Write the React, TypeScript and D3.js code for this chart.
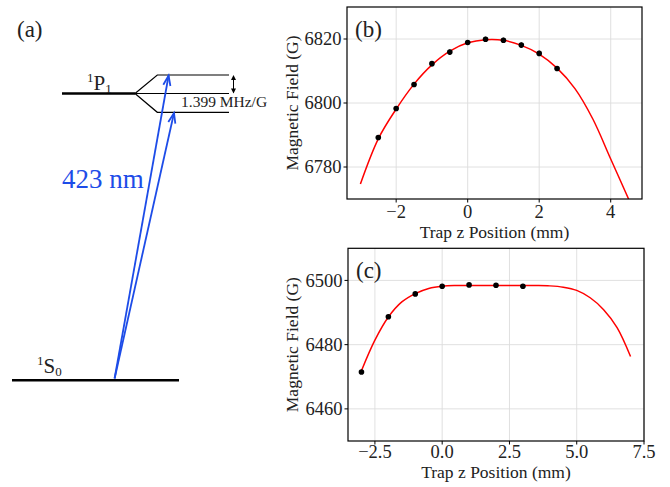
import React from 'react';
import * as d3 from 'd3';

// ---- Panel (b) data ----
const bX = [-2.5, -2, -1.5, -1, -0.5, 0, 0.5, 1, 1.5, 2, 2.5];
const bY = [6789.2, 6798.3, 6805.8, 6812.3, 6815.9, 6818.9, 6819.9, 6819.6, 6818.1, 6815.5, 6810.8];
const bErr = [0.8, 0.8, 0.8, 0.8, 0.8, 0.8, 0.8, 0.8, 0.8, 0.8, 0.8];
const bFitX = [-3, -2.5, -2, -1.5, -1, -0.5, 0, 0.5, 1, 1.5, 2, 2.5, 3, 3.5, 4, 4.5];
const bFitY = [6774.7, 6788.8, 6798.1, 6805.9, 6811.9, 6816.2, 6818.8, 6819.8, 6819.6, 6818.0, 6815.3, 6810.9, 6804.5, 6795.0, 6782.5, 6770.0];
const bXTicks = [-2, 0, 2, 4];
const bYTicks = [6780, 6800, 6820];

// ---- Panel (c) data ----
const cX = [-3, -2, -1, 0, 1, 2, 3];
const cY = [6471.5, 6488.7, 6495.8, 6498.2, 6498.6, 6498.5, 6498.2];
const cErr = [0.6, 0.6, 0.6, 0.6, 0.6, 0.6, 0.6];
const cFitX = [-3, -2.5, -2, -1.5, -1, -0.5, 0, 0.5, 1, 1.5, 2, 2.5, 3, 3.5, 4, 4.5, 5, 5.5, 6, 6.5, 7];
const cFitY = [6471.9, 6481.4, 6488.6, 6493.3, 6495.9, 6497.5, 6498.2, 6498.4, 6498.4, 6498.4, 6498.4, 6498.4, 6498.4, 6498.4, 6498.3, 6497.9, 6496.9, 6494.6, 6490.9, 6485.3, 6476.3];
const cXTicks = [-2.5, 0, 2.5, 5, 7.5];
const cYTicks = [6460, 6480, 6500];

const FONT = '"Liberation Serif", "Times New Roman", serif';
const BLUE = '#1d4ce8';
const TICK_FS = 18.5;
const LABEL_FS = 17.5;

const fmtMinus = (s: string) => s.replace('-', '\u2212');

type PanelProps = {
  id: string;
  label: string;
  x0: number; x1: number; y0: number; y1: number;
  xDomain: [number, number]; yDomain: [number, number];
  xs: number[]; ys: number[]; errs: number[];
  fitX: number[]; fitY: number[];
  xTicks: number[]; yTicks: number[];
  xFmt: (v: number) => string;
  tickBase: number; labelBase: number;
};

function Panel(p: PanelProps) {
  const x = d3.scaleLinear().domain(p.xDomain).range([p.x0, p.x1]);
  const y = d3.scaleLinear().domain(p.yDomain).range([p.y1, p.y0]);
  const line = d3.line<number>()
    .x((_, i) => x(p.fitX[i]))
    .y((d) => y(d))
    .curve(d3.curveCatmullRom.alpha(0.5));
  const clipId = 'clip-' + p.id;
  return (
    <g>
      <defs>
        <clipPath id={clipId}>
          <rect x={p.x0} y={p.y0} width={p.x1 - p.x0} height={p.y1 - p.y0} />
        </clipPath>
      </defs>
      {/* grid */}
      {p.xTicks.map((t) => (
        <line key={'gx' + t} x1={x(t)} x2={x(t)} y1={p.y0} y2={p.y1} stroke="#dcdcdc" strokeWidth={0.9} />
      ))}
      {p.yTicks.map((t) => (
        <line key={'gy' + t} x1={p.x0} x2={p.x1} y1={y(t)} y2={y(t)} stroke="#dcdcdc" strokeWidth={0.9} />
      ))}
      {/* fit curve */}
      <path d={line(p.fitY) || ''} fill="none" stroke="#ff0000" strokeWidth={1.5} clipPath={`url(#${clipId})`} />
      {/* data */}
      {p.xs.map((xv, i) => (
        <g key={'pt' + i}>
          <line x1={x(xv)} x2={x(xv)} y1={y(p.ys[i] - p.errs[i])} y2={y(p.ys[i] + p.errs[i])} stroke="#000" strokeWidth={1.2} />
          <circle cx={x(xv)} cy={y(p.ys[i])} r={2.8} fill="#000" />
        </g>
      ))}
      {/* spines */}
      <rect x={p.x0} y={p.y0} width={p.x1 - p.x0} height={p.y1 - p.y0} fill="none" stroke="#000" strokeWidth={1.2} />
      {/* x ticks */}
      {p.xTicks.map((t) => (
        <g key={'tx' + t}>
          <line x1={x(t)} x2={x(t)} y1={p.y1} y2={p.y1 + 3.5} stroke="#000" strokeWidth={1} />
          <text x={x(t)} y={p.tickBase} textAnchor="middle" fontFamily={FONT} fontSize={TICK_FS} fill="#222">
            {p.xFmt(t)}
          </text>
        </g>
      ))}
      {/* y ticks */}
      {p.yTicks.map((t) => (
        <g key={'ty' + t}>
          <line x1={p.x0 - 3.5} x2={p.x0} y1={y(t)} y2={y(t)} stroke="#000" strokeWidth={1} />
          <text x={p.x0 - 5.5} y={y(t)} dy="0.34em" textAnchor="end" fontFamily={FONT} fontSize={TICK_FS} fill="#222">
            {t}
          </text>
        </g>
      ))}
      {/* axis labels */}
      <text x={(p.x0 + p.x1) / 2} y={p.labelBase} textAnchor="middle" fontFamily={FONT} fontSize={LABEL_FS} fill="#222">
        Trap z Position (mm)
      </text>
      <text transform={`translate(298,${(p.y0 + p.y1) / 2}) rotate(-90)`} textAnchor="middle" fontFamily={FONT} fontSize={LABEL_FS} fill="#222">
        Magnetic Field (G)
      </text>
      <text x={p.x0 + 8} y={p.y0 + 30} fontFamily={FONT} fontSize={23} fill="#222">
        {p.label}
      </text>
    </g>
  );
}

function arrowHead(sx: number, sy: number, tx: number, ty: number, L: number, W: number) {
  const dx = tx - sx, dy = ty - sy;
  const len = Math.hypot(dx, dy);
  const ux = dx / len, uy = dy / len;
  const px = -uy, py = ux;
  const bx = tx - L * ux, by = ty - L * uy;
  return `M${bx + W * px},${by + W * py} L${tx},${ty} L${bx - W * px},${by - W * py}`;
}

function Diagram() {
  const pY = 93.5, upY = 75, loY = 112.3;
  const sY = 380.3;
  const start = [114.6, 378.5];
  const tip1 = [168.6, 75.5];
  const tip2 = [174, 113];
  return (
    <g>
      <text x={17} y={37} fontFamily={FONT} fontSize={23} fill="#222">(a)</text>
      {/* 1P1 level */}
      <line x1={62} x2={135} y1={pY} y2={pY} stroke="#000" strokeWidth={2.6} />
      <line x1={135} x2={229} y1={pY} y2={pY} stroke="#000" strokeWidth={1.2} />
      <polyline points={`135,${pY} 157.3,${upY} 229,${upY}`} fill="none" stroke="#000" strokeWidth={1.2} />
      <polyline points={`135,${pY} 157.3,${loY} 229,${loY}`} fill="none" stroke="#000" strokeWidth={1.2} />
      {/* double arrow */}
      <line x1={233.5} x2={233.5} y1={upY + 1} y2={pY - 1} stroke="#000" strokeWidth={1} />
      <path d={`M233.5,${upY} L231,${upY + 5} L236,${upY + 5} Z`} fill="#000" />
      <path d={`M233.5,${pY} L231,${pY - 5} L236,${pY - 5} Z`} fill="#000" />
      <text x={181} y={107} fontFamily={FONT} fontSize={15.5} fill="#222">1.399 MHz/G</text>
      <text x={87} y={90} fontFamily={FONT} fontSize={21} fill="#222">
        <tspan fontSize={13} dy={-8}>1</tspan>
        <tspan dy={8}>P</tspan>
        <tspan fontSize={13} dy={3}>1</tspan>
      </text>
      {/* 1S0 level */}
      <line x1={12} x2={179} y1={sY} y2={sY} stroke="#000" strokeWidth={2.6} />
      <text x={37} y={373} fontFamily={FONT} fontSize={21} fill="#222">
        <tspan fontSize={13} dy={-8}>1</tspan>
        <tspan dy={8}>S</tspan>
        <tspan fontSize={13} dy={3}>0</tspan>
      </text>
      {/* laser arrows */}
      <line x1={start[0]} y1={start[1]} x2={tip1[0]} y2={tip1[1]} stroke={BLUE} strokeWidth={1.8} />
      <path d={arrowHead(start[0], start[1], tip1[0], tip1[1], 10, 3.6)} fill="none" stroke={BLUE} strokeWidth={1.8} />
      <line x1={start[0]} y1={start[1]} x2={tip2[0]} y2={tip2[1]} stroke={BLUE} strokeWidth={1.8} />
      <path d={arrowHead(start[0], start[1], tip2[0], tip2[1], 10, 3.6)} fill="none" stroke={BLUE} strokeWidth={1.8} />
      <text x={62} y={188} fontFamily={FONT} fontSize={27} fill={BLUE}>423 nm</text>
    </g>
  );
}

export default function App() {
  return (
    <svg width={670} height={487} style={{ position: 'absolute', left: 0, top: 0, background: '#fff' }}>
      <rect x={0} y={0} width={670} height={487} fill="#fff" />
      <Diagram />
      <Panel
        id="b" label="(b)"
        x0={347} x1={642} y0={7} y1={199}
        xDomain={[-3.375, 4.875]} yDomain={[6770, 6830]}
        xs={bX} ys={bY} errs={bErr}
        fitX={bFitX} fitY={bFitY}
        xTicks={bXTicks} yTicks={bYTicks}
        xFmt={(v) => fmtMinus(d3.format('d')(v))}
        tickBase={218} labelBase={238}
      />
      <Panel
        id="c" label="(c)"
        x0={348} x1={644} y0={248.3} y1={441}
        xDomain={[-3.5, 7.5]} yDomain={[6450, 6510]}
        xs={cX} ys={cY} errs={cErr}
        fitX={cFitX} fitY={cFitY}
        xTicks={cXTicks} yTicks={cYTicks}
        xFmt={(v) => fmtMinus(d3.format('.1f')(v))}
        tickBase={458} labelBase={478}
      />
    </svg>
  );
}
